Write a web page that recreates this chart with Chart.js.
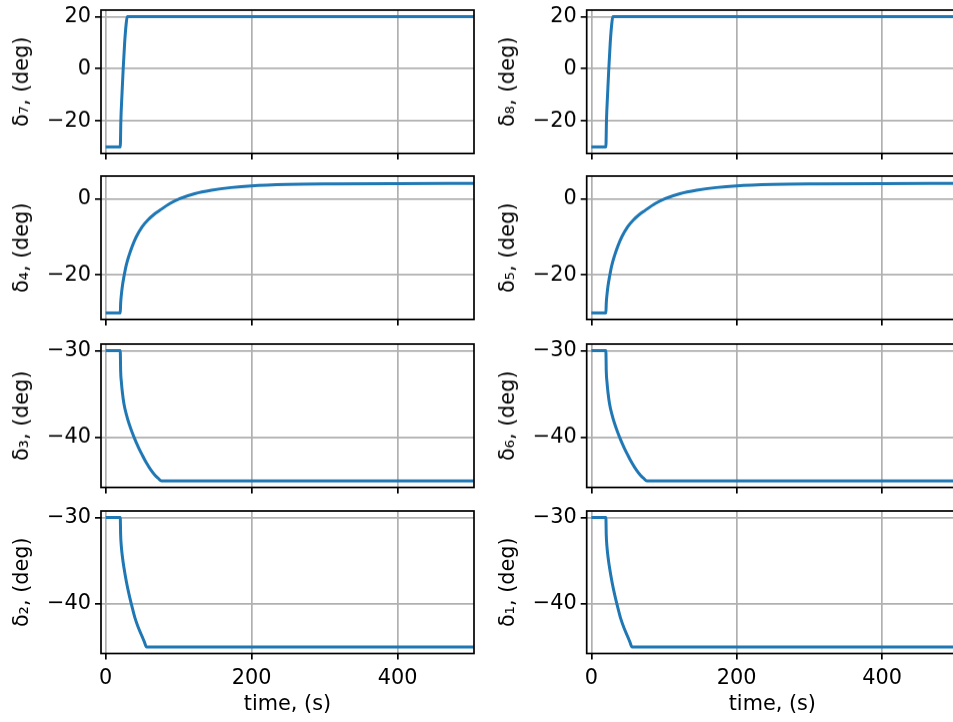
<!DOCTYPE html>
<html>
<head>
<meta charset="utf-8">
<script src="https://cdn.jsdelivr.net/npm/chart.js@4.4.0/dist/chart.umd.min.js"></script>
<style>
  html, body { margin:0; padding:0; background:#fff; width:953px; height:722px; overflow:hidden; }
  .panel { position:absolute; }
</style>
</head>
<body>
<script>
// ---- Data ----
const timeTicks = [0, 200, 400];
const timeRange = [-6.4, 504.5];

// delta7 / delta8 : quick step up to +20
const riseT = [0, 20, 20.8, 22.3, 24, 26, 28, 29.5, 505];
const riseV = [-30, -30, -20, -10, 0, 10, 17, 20, 20];
const riseTicks = [-20, 0, 20];
const riseRange = [-32.5, 22.5];

// delta4 / delta5 : slow climb towards ~4
const climbT = [0, 20, 20.5, 21.5, 23, 25, 28, 32, 37, 42, 50, 58, 66, 74, 88, 101.6, 122, 145, 172, 200, 250, 311, 400, 505];
const climbV = [-30, -30, -27.5, -25.2, -22.8, -20.5, -17.6, -14.9, -12.2, -10.0, -7.4, -5.6, -4.2, -3.1, -1.3, 0, 1.3, 2.2, 2.9, 3.35, 3.7, 3.85, 3.95, 4.0];
const climbTicks = [-20, 0];
const climbRange = [-31.7, 5.9];

// delta3 / delta6 : drop to -45, slower
const dropSlowT = [0, 20, 20.5, 21.5, 23, 25, 28.5, 32, 36, 40, 45, 50, 56, 62, 68, 72, 76.5, 505];
const dropSlowV = [-30, -30, -32.3, -33.6, -34.9, -36.1, -37.4, -38.4, -39.35, -40.2, -41.15, -42.0, -42.95, -43.75, -44.4, -44.7, -45, -45];

// delta2 / delta1 : drop to -45, faster
const dropFastT = [0, 20, 20.5, 21.5, 23, 25, 28.5, 32, 36, 40, 45, 50, 53, 56, 505];
const dropFastV = [-30, -30, -32.0, -33.4, -34.6, -35.8, -37.5, -38.9, -40.3, -41.6, -42.8, -43.8, -44.4, -45, -45];

const dropTicks = [-40, -30];
const dropRange = [-45.75, -29.25];

// grid order: row by row, left then right
const panels = [
  { label: 'δ₇, (deg)', t: riseT,     v: riseV,     ticks: riseTicks,  range: riseRange },
  { label: 'δ₈, (deg)', t: riseT,     v: riseV,     ticks: riseTicks,  range: riseRange },
  { label: 'δ₄, (deg)', t: climbT,    v: climbV,    ticks: climbTicks, range: climbRange },
  { label: 'δ₅, (deg)', t: climbT,    v: climbV,    ticks: climbTicks, range: climbRange },
  { label: 'δ₃, (deg)', t: dropSlowT, v: dropSlowV, ticks: dropTicks,  range: dropRange },
  { label: 'δ₆, (deg)', t: dropSlowT, v: dropSlowV, ticks: dropTicks,  range: dropRange },
  { label: 'δ₂, (deg)', t: dropFastT, v: dropFastV, ticks: dropTicks,  range: dropRange },
  { label: 'δ₁, (deg)', t: dropFastT, v: dropFastV, ticks: dropTicks,  range: dropRange },
];

// ---- Layout ----
const rowTops = [10, 176, 344, 511];
const plotH = 142.5;
const cols = [
  { left: 0,   width: 478, axisW: 101 },
  { left: 486, width: 476, axisW: 100.7 },
];
const minus = v => v < 0 ? '\u2212' + Math.abs(v) : String(v);

Chart.defaults.font.family = "'DejaVu Sans', sans-serif";
Chart.defaults.font.size = 20.8;
Chart.defaults.color = '#000';

// matplotlib-like box round the axes
const frame = {
  id: 'frame',
  afterDatasetsDraw(chart) {
    const { ctx, chartArea: a } = chart;
    ctx.save();
    ctx.strokeStyle = '#000';
    ctx.lineWidth = 1.7;
    ctx.strokeRect(a.left, a.top, a.right - a.left, a.bottom - a.top);
    ctx.restore();
  }
};

const gridStyle = { color: '#b0b0b0', lineWidth: 1.7, tickColor: '#000', tickWidth: 1.7, tickLength: 6 };

panels.forEach((p, i) => {
  const r = Math.floor(i / 2), c = cols[i % 2];
  const isBottom = r === rowTops.length - 1;
  const xh = isBottom ? 722 - (rowTops[r] + plotH) : 10;

  const box = document.createElement('div');
  box.className = 'panel';
  box.style.left = c.left + 'px';
  box.style.top = (rowTops[r] - 8) + 'px';
  box.style.width = c.width + 'px';
  box.style.height = (8 + plotH + xh) + 'px';
  const cv = document.createElement('canvas');
  box.appendChild(cv);
  document.body.appendChild(box);

  new Chart(cv, {
    type: 'line',
    data: {
      datasets: [{
        data: p.t.map((t, k) => ({ x: t, y: p.v[k] })),
        borderColor: '#1f77b4',
        borderWidth: 3,
        pointRadius: 0,
        cubicInterpolationMode: 'monotone',
        fill: false
      }]
    },
    options: {
      responsive: true,
      maintainAspectRatio: false,
      animation: false,
      layout: { padding: { top: 8, right: 4, left: 0, bottom: 0 } },
      plugins: { legend: { display: false }, tooltip: { enabled: false } },
      scales: {
        x: {
          type: 'linear',
          min: timeRange[0], max: timeRange[1],
          afterBuildTicks: s => { s.ticks = timeTicks.map(v => ({ value: v })); },
          afterFit: s => { s.height = xh; s.paddingLeft = 0; s.paddingRight = 0; },
          border: { display: false },
          grid: gridStyle,
          ticks: { display: isBottom, padding: 7, maxRotation: 0, callback: minus },
          title: { display: isBottom, text: 'time, (s)', padding: { top: 0, bottom: 5 } }
        },
        y: {
          min: p.range[0], max: p.range[1],
          afterBuildTicks: s => { s.ticks = p.ticks.map(v => ({ value: v })); },
          afterFit: s => { s.width = c.axisW; s.paddingTop = 0; s.paddingBottom = 0; },
          border: { display: false },
          grid: gridStyle,
          ticks: { padding: 4, callback: minus },
          title: { display: true, text: p.label, padding: { top: 10, bottom: 0 } }
        }
      }
    },
    plugins: [frame]
  });
});
</script>
</body>
</html>
